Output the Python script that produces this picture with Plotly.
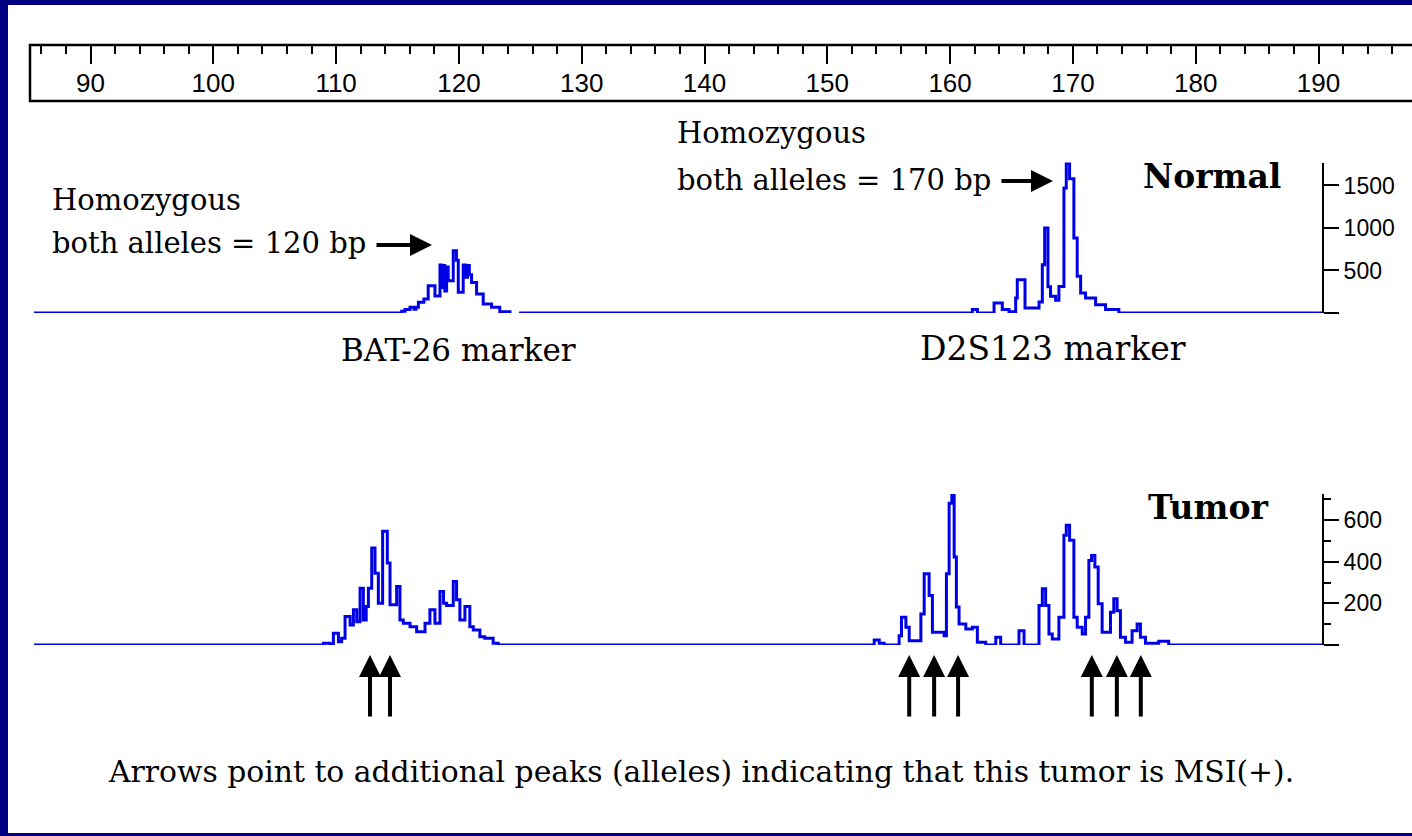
import plotly.graph_objects as go

# ---------------- data (base pairs / fluorescence units) ----------------
normal_bp = [85.4, 115.34, 115.61, 116.02, 116.35, 116.5, 116.7, 117.15, 117.5, 118.05, 118.46,
             118.6, 118.72, 118.85, 119.0, 119.13, 119.54, 119.8, 119.95, 120.35, 120.55, 120.7,
             120.85, 121.03, 121.44, 121.98, 122.66, 123.33, 124.28,
             124.5, 124.9, 161.81, 162.22, 163.58, 164.25, 164.8, 165.34, 165.47, 165.75, 166.1,
             166.42, 167.24, 167.51, 167.7, 167.97, 168.18, 168.59, 168.86, 169.27, 169.46,
             169.73, 170.08, 170.35, 170.63, 171.03, 171.85, 172.66, 173.74, 190.4]
normal_val = [0, 20, 40, 67, 45, 67, 125, 165, 320, 200, 565,
              300, 560, 260, 540, 380, 733, 620, 243, 565, 420, 560,
              450, 360, 223, 106, 67, 16, 16,
              None, 0, 40, 0, 118, 40, 15, 176, 392, 392, 60,
              60, 130, 568, 1000, 310, 196, 150, 313, 1470, 1764,
              1580, 882, 431, 235, 176, 98, 40, 0, 0]

tumor_bp = [85.4, 108.97, 109.51, 109.78, 110.19, 110.45, 110.73, 111.14, 111.41, 111.68, 111.95,
            112.22, 112.45, 112.63, 112.9, 113.17, 113.44, 113.79, 114.17, 114.39, 114.93, 115.2,
            115.47, 116.02, 116.56, 117.24, 117.64, 118.05, 118.46, 118.75, 119.0, 119.54, 119.81,
            120.08, 120.49, 120.89, 121.17, 121.71, 122.11, 122.79, 123.2,
            153.82, 154.23, 154.63, 155.85, 156.04, 156.4, 156.67, 157.62, 157.89, 158.29, 158.56,
            159.51, 159.7, 159.92, 160.14, 160.33, 160.51, 160.73, 161.28, 161.81, 162.22, 162.9,
            163.72, 164.12, 165.61, 166.02, 167.24, 167.51, 167.78, 168.05, 168.32, 168.86, 169.27,
            169.46, 169.73, 170.08, 170.35, 170.76, 171.03, 171.3, 171.52, 171.79, 172.06, 172.38,
            173.06, 173.33, 173.6, 173.87, 174.28, 174.82, 175.23, 175.5, 175.91, 176.99, 177.8,
            190.4]
tumor_val = [0, 8, 0, 56, 16, 32, 137, 96, 169, 112, 273,
             120, 185, 273, 466, 345, 201, 546, 394, 193, 281, 120,
             104, 88, 64, 104, 169, 104, 257, 200, 190, 305, 217,
             120, 185, 88, 72, 40, 32, 8, 0,
             24, 8, 0, 45, 133, 85, 21, 149, 342, 238, 61,
             45, 342, 680, 720, 423, 182, 101, 77, 85, 13, 0,
             37, 0, 69, 0, 190, 270, 190, 53, 29, 133, 527,
             575, 503, 133, 85, 53, 133, 406, 430, 374, 198, 61,
             157, 222, 165, 37, 13, 69, 101, 37, 8, 18, 0,
             0]

ruler_major_step = 10
ruler_minor_step = 2
normal_ticks = [0, 500, 1000, 1500]
normal_ticktext = ["", "500", "1000", "1500"]
tumor_ticks = [0, 200, 400, 600]
tumor_ticktext = ["", "200", "400", "600"]
tumor_minor_ticks = [100, 300, 500, 700]
msi_arrow_bp = [112.76, 114.39, 156.67, 158.70, 160.65, 171.54, 173.58, 175.53]

W, H = 1412, 836
def px(x):
    return x / W
def py(y):
    return 1 - y / H

BLUE = "#0000E6"
SERIF = "DejaVu Serif"
SANS = "Liberation Sans"
PX_PER_BP = 12.28

fig = go.Figure()
fig.add_trace(go.Scatter(x=normal_bp, y=normal_val, xaxis="x", yaxis="y2", mode="lines",
                         line=dict(color=BLUE, width=3, shape="hv"), connectgaps=False,
                         hoverinfo="skip", showlegend=False))
fig.add_trace(go.Scatter(x=tumor_bp, y=tumor_val, xaxis="x", yaxis="y3", mode="lines",
                         line=dict(color=BLUE, width=3, shape="hv"),
                         hoverinfo="skip", showlegend=False))
# empty trace that registers the ruler subplot
fig.add_trace(go.Scatter(x=[], y=[], xaxis="x2", yaxis="y4", mode="lines",
                         hoverinfo="skip", showlegend=False))

x_lo = 90 - 90.5 / PX_PER_BP
x_hi = 90 + (W - 90.5) / PX_PER_BP

fig.update_layout(
    width=W, height=H,
    margin=dict(l=0, r=0, t=0, b=0),
    paper_bgcolor="#000080",
    plot_bgcolor="rgba(0,0,0,0)",
    showlegend=False,
    xaxis=dict(domain=[0, 1], range=[x_lo, x_hi], visible=False, anchor="y3"),
    xaxis2=dict(domain=[px(30), 1], range=[x_lo + 30 / PX_PER_BP, x_hi], anchor="y4", side="top",
                showline=False, showgrid=False, zeroline=False,
                ticks="inside", ticklen=19, tickwidth=2, tickcolor="black",
                tick0=0, dtick=ruler_major_step,
                ticklabelposition="inside", ticklabelstandoff=12,
                tickfont=dict(family=SANS, size=26, color="black"),
                minor=dict(dtick=ruler_minor_step, tick0=0, ticks="inside", ticklen=9,
                           tickwidth=2, tickcolor="black")),
    yaxis2=dict(domain=[py(313), py(162.5)], range=[0, 1770], anchor="free",
                position=px(1323), side="right", showline=True, linecolor="black",
                linewidth=2, ticks="outside", ticklen=15, tickwidth=2, tickcolor="black",
                tickvals=normal_ticks, ticktext=normal_ticktext, showgrid=False,
                zeroline=False, tickfont=dict(family=SANS, size=23, color="black")),
    yaxis3=dict(domain=[py(645), py(494)], range=[0, 725], anchor="free",
                position=px(1323), side="right", showline=True, linecolor="black",
                linewidth=2, ticks="outside", ticklen=15, tickwidth=2, tickcolor="black",
                tickvals=tumor_ticks, ticktext=tumor_ticktext, showgrid=False,
                zeroline=False, tickfont=dict(family=SANS, size=23, color="black"),
                minor=dict(tickvals=tumor_minor_ticks, ticks="outside", ticklen=7,
                           tickwidth=2, tickcolor="black")),
    yaxis4=dict(domain=[py(101), py(45)], range=[0, 1], anchor="x2", visible=False),
)

# white panel and ruler box
fig.add_shape(type="rect", xref="paper", yref="paper", x0=px(8), x1=1.05, y0=py(833), y1=py(5),
              fillcolor="white", line=dict(width=0), layer="below")
fig.add_shape(type="rect", xref="paper", yref="paper", x0=px(30), x1=1.05, y0=py(101), y1=py(45),
              fillcolor="rgba(0,0,0,0)", line=dict(color="black", width=2.5), layer="above")

def label(text, x, y, size=29, anchor="left", family=SERIF, weight="normal"):
    fig.add_annotation(text=text, xref="paper", yref="paper", x=px(x), y=py(y),
                       xanchor=anchor, yanchor="middle", showarrow=False,
                       font=dict(family=family, size=size, color="black", weight=weight))

label("Homozygous", 50, 200)
label("both alleles = 120 bp", 50, 243)
label("Homozygous", 675, 133)
label("both alleles = 170 bp", 675, 180)
label("Normal", 1141, 176, size=33, weight="bold")
label("Tumor", 1146, 507, size=33, weight="bold")
label("BAT-26 marker", 458, 350, size=31, anchor="center")
label("D2S123 marker", 1053, 348, size=33, anchor="center")
label("Arrows point to additional peaks (alleles) indicating that this tumor is MSI(+).", 701, 771,
      size=29.8, anchor="center")

# horizontal arrows
for tip_x, tip_y, tail in [(432, 245, 57), (1053, 181, 53)]:
    fig.add_annotation(x=px(tip_x), y=py(tip_y), xref="paper", yref="paper", text="",
                       showarrow=True, ax=-tail, ay=0, arrowhead=2, arrowsize=1.1,
                       arrowwidth=4, arrowcolor="black")

# MSI up arrows
for b in msi_arrow_bp:
    fig.add_annotation(x=b, y=py(655), xref="x", yref="paper", text="",
                       showarrow=True, ax=0, ay=63, arrowhead=2, arrowsize=1.1,
                       arrowwidth=4, arrowcolor="black")

fig.write_html("out.html", config={"displayModeBar": False},
               post_script="document.body.style.margin='0';document.body.style.overflow='hidden';")
